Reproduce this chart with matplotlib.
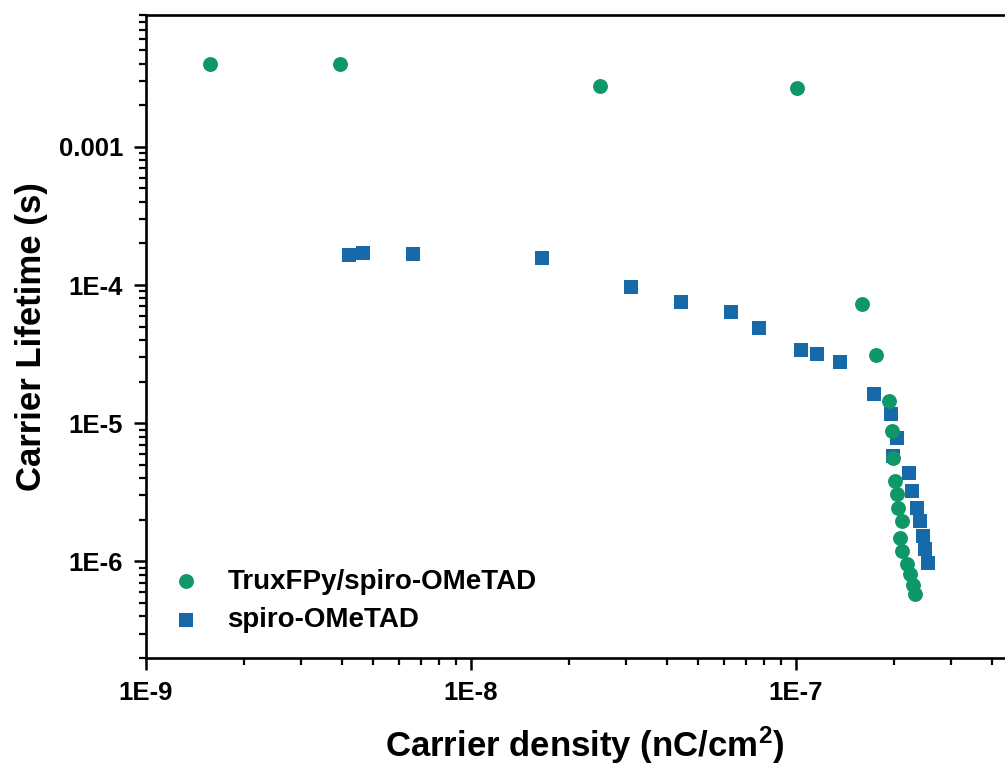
# %% Load libraries
import matplotlib
matplotlib.use('Agg')
import matplotlib.pyplot as plt
from matplotlib.ticker import LogLocator, NullFormatter

# %% Data
# TruxFPy/spiro-OMeTAD
trux_density = [1.57e-9, 3.95e-9, 2.49e-8, 1.01e-7, 1.60e-7, 1.76e-7, 1.93e-7,
                1.97e-7, 1.99e-7, 2.02e-7, 2.05e-7, 2.06e-7, 2.12e-7, 2.09e-7,
                2.12e-7, 2.20e-7, 2.25e-7, 2.29e-7, 2.32e-7]
trux_lifetime = [4.0e-3, 4.0e-3, 2.77e-3, 2.68e-3, 7.24e-5, 3.14e-5, 1.46e-5,
                 8.8e-6, 5.6e-6, 3.82e-6, 3.07e-6, 2.43e-6, 1.95e-6, 1.47e-6,
                 1.18e-6, 9.5e-7, 8.05e-7, 6.8e-7, 5.8e-7]
# spiro-OMeTAD
spiro_density = [4.21e-9, 4.66e-9, 6.63e-9, 1.65e-8, 3.10e-8, 4.43e-8, 6.31e-8,
                 7.69e-8, 1.035e-7, 1.16e-7, 1.37e-7, 1.74e-7, 1.96e-7, 2.05e-7,
                 1.99e-7, 2.23e-7, 2.28e-7, 2.36e-7, 2.41e-7, 2.46e-7, 2.50e-7,
                 2.55e-7]
spiro_lifetime = [1.64e-4, 1.70e-4, 1.67e-4, 1.56e-4, 9.6e-5, 7.6e-5, 6.4e-5,
                  4.9e-5, 3.36e-5, 3.19e-5, 2.79e-5, 1.64e-5, 1.17e-5, 7.8e-6,
                  5.8e-6, 4.36e-6, 3.23e-6, 2.43e-6, 1.95e-6, 1.52e-6, 1.24e-6,
                  9.7e-7]

x_ticks = [1e-9, 1e-8, 1e-7]
x_tick_labels = ['1E-9', '1E-8', '1E-7']
y_ticks = [1e-6, 1e-5, 1e-4, 1e-3]
y_tick_labels = ['1E-6', '1E-5', '1E-4', '0.001']

# %% Setup
plt.rcParams['font.family'] = ['Liberation Sans', 'DejaVu Sans']
plt.rcParams['font.weight'] = 'bold'
plt.rcParams['mathtext.fontset'] = 'custom'
plt.rcParams['mathtext.rm'] = 'Liberation Sans:bold'
plt.rcParams['mathtext.bf'] = 'Liberation Sans:bold'
plt.rcParams['mathtext.default'] = 'bf'
green = '#0f9768'
blue = '#176aa9'

# create figure
fig = plt.figure(figsize=(10.05, 7.64), dpi=100)
ax = fig.add_axes([146 / 1005, 1 - 658 / 764, (1023 - 146) / 1005,
                   (658 - 15) / 764])

# --+ plot data
sq = ax.scatter(spiro_density, spiro_lifetime, marker='s', s=90, color=blue,
                linewidths=0, zorder=3)
ci = ax.scatter(trux_density, trux_lifetime, marker='o', s=115, color=green,
                linewidths=0, zorder=4)

# --+ scales
ax.set_xscale('log')
ax.set_yscale('log')
ax.set_xlim(1e-9, 5e-7)
ax.set_ylim(2e-7, 9e-3)

# --+ ticks
ax.set_xticks(x_ticks, x_tick_labels)
ax.set_yticks(y_ticks, y_tick_labels)
ax.xaxis.set_minor_locator(LogLocator(base=10, subs=range(2, 10)))
ax.yaxis.set_minor_locator(LogLocator(base=10, subs=range(2, 10)))
ax.xaxis.set_minor_formatter(NullFormatter())
ax.yaxis.set_minor_formatter(NullFormatter())
ax.tick_params(which='major', direction='out', length=8.5, width=1.8,
               labelsize=18.5, pad=8)
ax.tick_params(which='minor', direction='out', length=5, width=1.6)
for lab in ax.get_xticklabels() + ax.get_yticklabels():
    lab.set_fontweight('bold')

for sp in ax.spines.values():
    sp.set_linewidth(1.9)

# --+ labels
ax.set_xlabel('Carrier density (nC/cm$^{2}$)', fontsize=25,
              fontweight='bold', labelpad=14)
ax.set_ylabel('Carrier Lifetime (s)', fontsize=25, fontweight='bold',
              labelpad=8)

# legend
ax.legend([ci, sq], ['TruxFPy/spiro-OMeTAD', 'spiro-OMeTAD'],
          loc='center left', bbox_to_anchor=(172 / 1005, 1 - 601 / 764),
          bbox_transform=fig.transFigure, frameon=False,
          borderpad=0, borderaxespad=0, handlelength=1.0, handletextpad=1.0,
          labelspacing=0.45, prop={'weight': 'bold', 'size': 20})

fig.savefig('out.png', dpi=100)
